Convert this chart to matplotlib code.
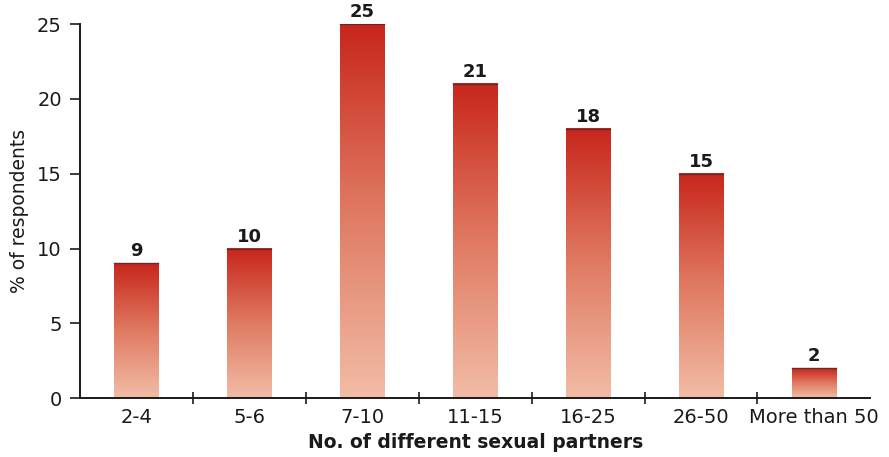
import numpy as np
import matplotlib.pyplot as plt
from matplotlib.colors import LinearSegmentedColormap

categories = ['2-4', '5-6', '7-10', '11-15', '16-25', '26-50', 'More than 50']
values = [9, 10, 25, 21, 18, 15, 2]

plt.rcParams['font.family'] = ['DejaVu Sans']

fig = plt.figure(figsize=(8.89, 4.57), dpi=100)
ax = fig.add_axes([0.090, 0.129, 0.889, 0.818])

# red-to-salmon fade, dark at the top of each bar
fade = LinearSegmentedColormap.from_list('fade', ['#f2bca6', '#e07a62', '#c8261c'])
grad = np.linspace(0, 1, 256).reshape(-1, 1)

width = 0.39
x = np.arange(len(categories))
for xi, v in zip(x, values):
    ax.imshow(grad, cmap=fade, origin='lower', aspect='auto',
              extent=(xi - width / 2, xi + width / 2, 0, v), zorder=2)
    ax.plot([xi - width / 2, xi + width / 2], [v, v], color='#6a2a2a', lw=1.0, zorder=3)
    ax.text(xi, v + 0.2, str(v), ha='center', va='bottom', fontsize=13,
            fontweight='bold', color='#1a1a1a', clip_on=False)

ax.set_xlim(-0.5, 6.5)
ax.set_ylim(0, 25)

for side in ['top', 'right']:
    ax.spines[side].set_visible(False)
for side in ['left', 'bottom']:
    ax.spines[side].set_linewidth(1.4)
    ax.spines[side].set_color('#1a1a1a')

ax.set_yticks([0, 5, 10, 15, 20, 25])
ax.tick_params(axis='y', length=7, width=1.2, labelsize=14, colors='#1a1a1a', pad=6)

# group labels sit under the bars, tick marks at the group boundaries
ax.set_xticks(x[:-1] + 0.5)
ax.set_xticklabels([])
ax.tick_params(axis='x', length=8, width=1.2, direction='inout', colors='#1a1a1a')
for xi, c in zip(x, categories):
    ax.text(xi, -0.65, c, ha='center', va='top', fontsize=14, color='#1a1a1a',
            clip_on=False)

ax.set_xlabel('No. of different sexual partners', fontsize=13.5, fontweight='bold',
              color='#1a1a1a', labelpad=18)
ax.set_ylabel('% of respondents', fontsize=13.5, color='#1a1a1a', labelpad=6)

fig.savefig('out.png', dpi=100)
